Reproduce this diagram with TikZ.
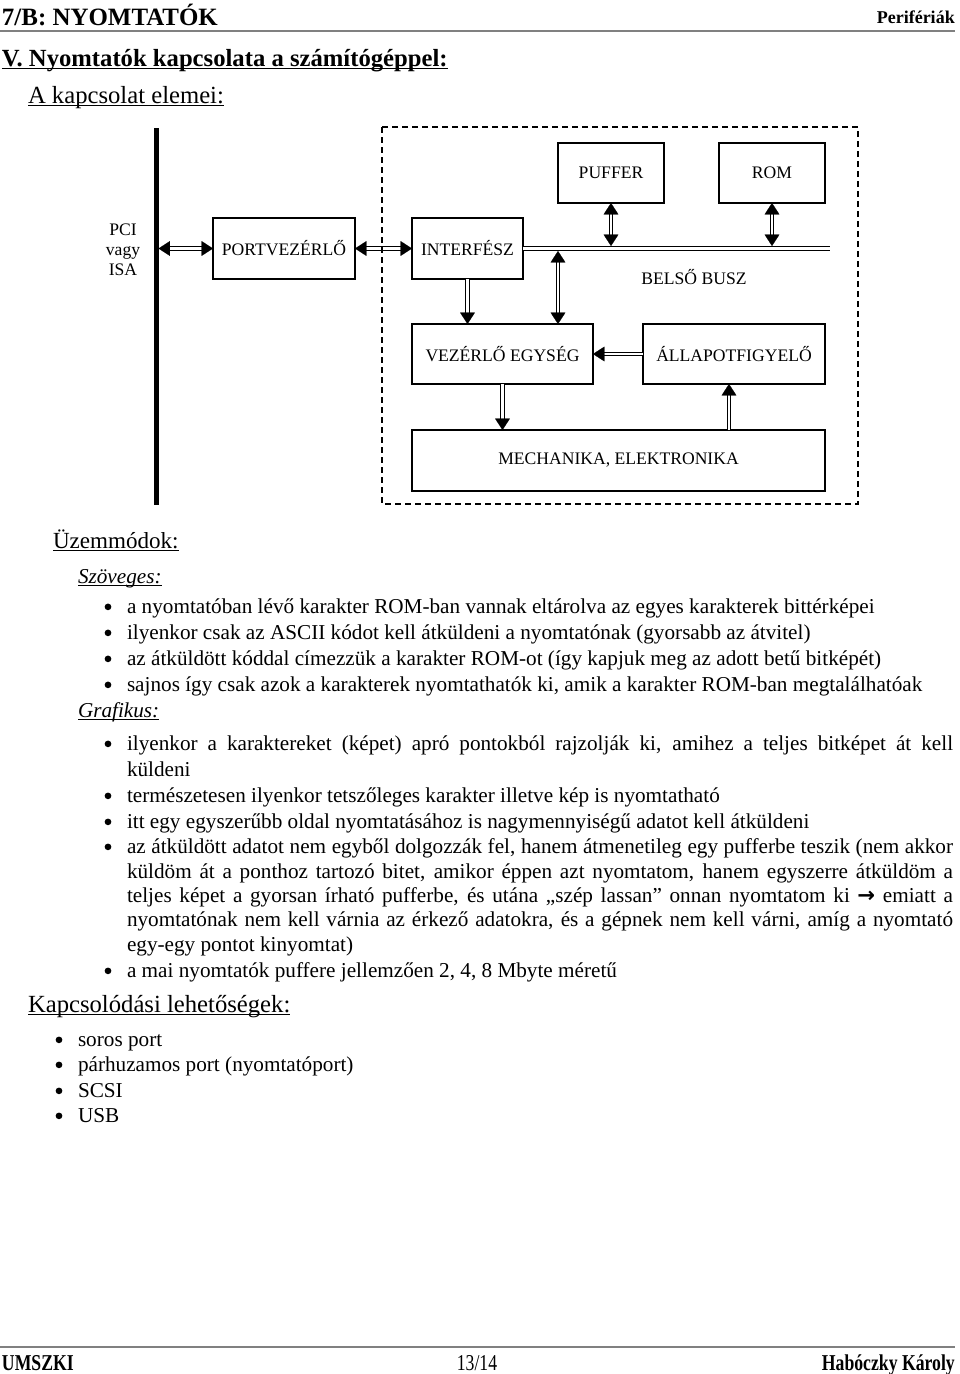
\documentclass[tikz,border=0pt]{standalone}
\usepackage{fontspec}
\usepackage{graphicx}
\setmainfont{Liberation Serif}
\newfontfamily\arrowfont{DejaVu Sans}
\usetikzlibrary{arrows.meta}
\newcommand\bodyf{\fontsize{15.9pt}{19pt}\selectfont}
\newcommand\headf{\fontsize{18.5pt}{22pt}\selectfont}
\newcommand\diagf{\fontsize{13.2pt}{15pt}\selectfont}
\newcommand\footf{\fontsize{17pt}{20pt}\selectfont}
\newsavebox\ulbox
\newcommand\myul[1]{\sbox\ulbox{#1}\rlap{\rule[-0.13em]{\wd\ulbox}{0.055em}}\usebox\ulbox}
\begin{document}
\begin{tikzpicture}[x=0.75pt,y=-0.75pt,
  txt/.style={anchor=base west, inner sep=0pt, outer sep=0pt},
  body/.style={txt, font=\bodyf},
  bul/.style={circle, fill=black, draw=none, inner sep=0pt, minimum size=5pt, yshift=4.6pt},
  blk/.style={draw, line width=0.8pt, inner sep=0pt, outer sep=0pt, font=\diagf},
  shaft/.style={draw, line width=0.8pt, double, double distance=2pt},
  dboth/.style={shaft, shorten <=5pt, shorten >=5pt},
  dend/.style={shaft, shorten >=5pt},
  >={Triangle[length=8.5pt,width=11pt,color=black]},
  tboth/.style={draw=white, line width=0.1pt, <->},
  tend/.style={draw=white, line width=0.1pt, ->},
  frame/.style={draw, line width=0.8pt, dash pattern=on 4.5pt off 3pt},
  rulel/.style={draw=gray, line width=1.5pt}
]
\useasboundingbox (0,0) rectangle (960,1374);

% ---------- header ----------
\node[txt, font=\bfseries\fontsize{18.7pt}{22pt}\selectfont] (hdr) at (2,25) {7/B: NYOMTATÓK};
\node[anchor=base east, inner sep=0pt, font=\bfseries\fontsize{13.5pt}{16pt}\selectfont] (per) at (955,23) {Perifériák};
\draw[rulel] (0,31) -- (955,31);
\node[txt, font=\bfseries\headf] (ttl) at (2,66) {\myul{V. Nyomtatók kapcsolata a számítógéppel:}};
\node[txt, font=\headf] (sub) at (28,103) {\myul{A kapcsolat elemei:}};

% ---------- diagram ----------
\draw[line width=3.75pt] (156,128) -- (156,505);
\coordinate (pci) at (158.5,248.5);
\node[align=center, inner sep=0pt, font=\diagf] (pcil) at (123,250) {PCI\\vagy\\ISA};

\node[blk, minimum width=106.5pt, minimum height=45.75pt] (port) at (284,248.5) {PORTVEZÉRLŐ};
\node[blk, minimum width=83.25pt, minimum height=45.75pt] (int) at (467.5,248.5) {INTERFÉSZ};
\node[blk, minimum width=79.5pt, minimum height=45pt] (puf) at (611,173) {PUFFER};
\node[blk, minimum width=79.5pt, minimum height=45pt] (rom) at (772,173) {ROM};
\node[blk, minimum width=135.75pt, minimum height=45pt] (vez) at (502.5,354) {VEZÉRLŐ EGYSÉG};
\node[blk, minimum width=136.5pt, minimum height=45pt] (all) at (734,354) {ÁLLAPOTFIGYELŐ};
\node[blk, minimum width=309.75pt, minimum height=45.75pt] (mech) at (618.5,460.5) {MECHANIKA, ELEKTRONIKA};
\node[inner sep=0pt, font=\diagf] (bb) at (694,277) {BELSŐ BUSZ};

\coordinate (busend) at (830,248.5);
\coordinate (bustop) at (0,246);
\coordinate (tapv) at (558,251);
\coordinate (ma) at (729,0);

% bus
\draw[shaft, line width=1pt] (int.east) -- (busend);
% shafts
\draw[dboth] (pci) -- (port.west);
\draw[dboth] (port.east) -- (int.west);
\draw[dboth] (puf.south) -- (puf.south |- bustop);
\draw[dboth] (rom.south) -- (rom.south |- bustop);
\draw[dboth] (tapv) -- (tapv |- vez.north);
\draw[dend] (int.south) -- (int.south |- vez.north);
\draw[dend] (all.west) -- (vez.east);
\draw[dend] (vez.south) -- (vez.south |- mech.north);
\draw[dend] (mech.north -| ma) -- (all.south -| ma);
% tips
\draw[tboth] (pci) -- (port.west);
\draw[tboth] (port.east) -- (int.west);
\draw[tboth] (puf.south) -- (puf.south |- bustop);
\draw[tboth] (rom.south) -- (rom.south |- bustop);
\draw[tboth] (tapv) -- (tapv |- vez.north);
\draw[tend] (int.south) -- (int.south |- vez.north);
\draw[tend] (all.west) -- (vez.east);
\draw[tend] (vez.south) -- (vez.south |- mech.north);
\draw[tend] (mech.north -| ma) -- (all.south -| ma);

\draw[frame] (382,127) rectangle (858,504);

% ---------- Üzemmódok ----------
\node[txt, font=\fontsize{17.3pt}{21pt}\selectfont] (uzm) at (53,548) {\myul{Üzemmódok:}};
\node[txt, font=\bodyf\itshape] (szov) at (78,583) {\myul{Szöveges:}};

\node[bul] (b1) at (108,613) {};
\node[body] (s1) at (127,613) {a nyomtatóban lévő karakter ROM-ban vannak eltárolva az egyes karakterek bittérképei};
\node[bul] (b2) at (108,639) {};
\node[body] (s2) at (127,639) {ilyenkor csak az ASCII kódot kell átküldeni a nyomtatónak (gyorsabb az átvitel)};
\node[bul] (b3) at (108,665) {};
\node[body] (s3) at (127,665) {az átküldött kóddal címezzük a karakter ROM-ot (így kapjuk meg az adott betű bitképét)};
\node[bul] (b4) at (108,691) {};
\node[body] (s4) at (127,691) {sajnos így csak azok a karakterek nyomtathatók ki, amik a karakter ROM-ban megtalálhatóak};

\node[txt, font=\bodyf\itshape] (graf) at (78,717) {\myul{Grafikus:}};

\node[bul] (g1b) at (108,750) {};
\node[body] (g1) at (127,750) {\makebox[619.5pt][s]{ilyenkor a karaktereket (képet) apró pontokból rajzolják ki, amihez a teljes bitképet át kell}};
\node[body] (g2) at (127,776) {küldeni};
\node[bul] (g3b) at (108,802) {};
\node[body] (g3) at (127,802) {természetesen ilyenkor tetszőleges karakter illetve kép is nyomtatható};
\node[bul] (g4b) at (108,828) {};
\node[body] (g4) at (127,828) {itt egy egyszerűbb oldal nyomtatásához is nagymennyiségű adatot kell átküldeni};
\node[bul] (g5b) at (108,853) {};
\node[body] (g5) at (127,853) {\makebox[619.5pt][s]{az átküldött adatot nem egyből dolgozzák fel, hanem átmenetileg egy pufferbe teszik (nem akkor}};
\node[body] (g6) at (127,878) {\makebox[619.5pt][s]{küldöm át a ponthoz tartozó bitet, amikor éppen azt nyomtatom, hanem egyszerre átküldöm a}};
\node[body] (g7) at (127,902) {\makebox[619.5pt][s]{teljes képet a gyorsan írható pufferbe, és utána „szép lassan” onnan nyomtatom ki {\arrowfont\bfseries →} emiatt a}};
\node[body] (g8) at (127,926) {\makebox[619.5pt][s]{nyomtatónak nem kell várnia az érkező adatokra, és a gépnek nem kell várni, amíg a nyomtató}};
\node[body] (g9) at (127,951) {egy-egy pontot kinyomtat)};
\node[bul] (g10b) at (108,977) {};
\node[body] (g10) at (127,977) {a mai nyomtatók puffere jellemzően 2, 4, 8 Mbyte méretű};

% ---------- Kapcsolódási ----------
\node[txt, font=\headf] (kap) at (28,1012) {\myul{Kapcsolódási lehetőségek:}};
\node[bul] (k1b) at (59,1046) {};
\node[body] (k1) at (78,1046) {soros port};
\node[bul] (k2b) at (59,1071) {};
\node[body] (k2) at (78,1071) {párhuzamos port (nyomtatóport)};
\node[bul] (k3b) at (59,1097) {};
\node[body] (k3) at (78,1097) {SCSI};
\node[bul] (k4b) at (59,1122) {};
\node[body] (k4) at (78,1122) {USB};

% ---------- footer ----------
\draw[rulel] (0,1347) -- (955,1347);
\node[txt, font=\bfseries\footf] (f1) at (2,1370) {\scalebox{0.78}[1]{UMSZKI}};
\node[anchor=base, inner sep=0pt, font=\footf] (f2) at (477,1370) {\scalebox{0.78}[1]{13/14}};
\node[anchor=base east, inner sep=0pt, font=\bfseries\footf] (f3) at (955,1370) {\scalebox{0.78}[1]{Habóczky Károly}};
\end{tikzpicture}
\end{document}
